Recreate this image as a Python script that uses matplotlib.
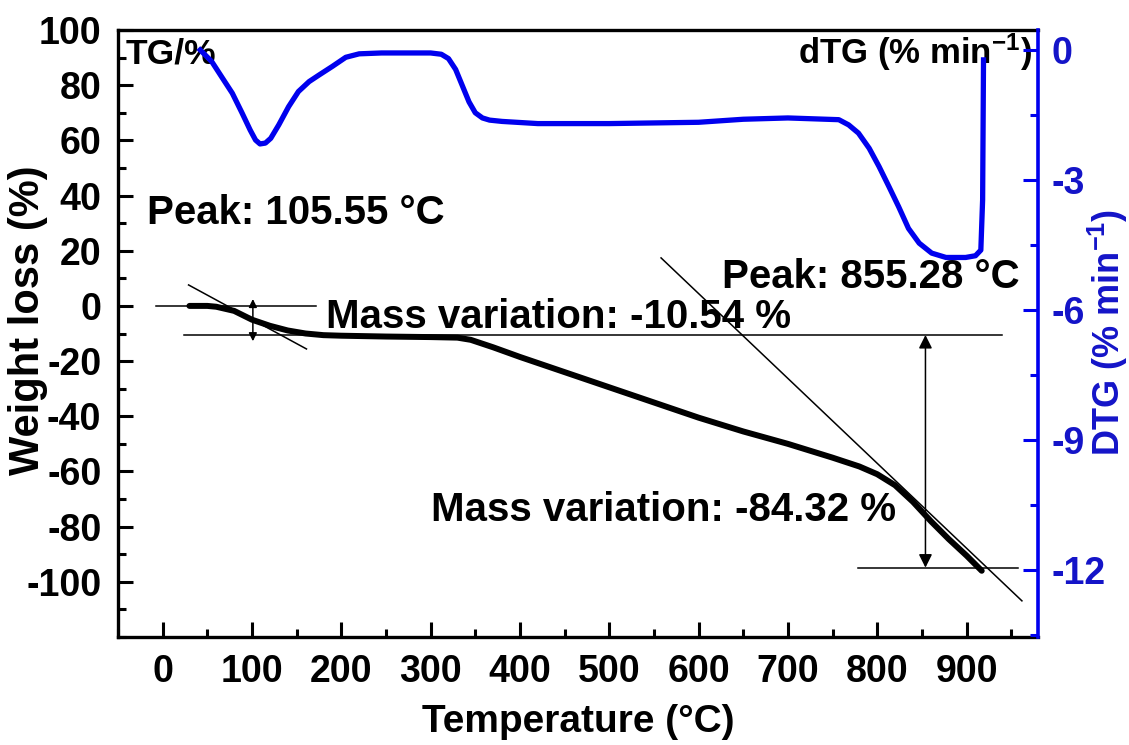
import numpy as np
import matplotlib
matplotlib.use("Agg")
import matplotlib.pyplot as plt
from matplotlib.ticker import MultipleLocator

# %% data

# TG curve: temperature (C) / weight loss (%)
tg_temp = [30, 50, 60, 80, 100, 120, 140, 160, 180, 200, 250, 300, 330, 345, 370,
           400, 450, 500, 550, 600, 650, 700, 750, 780, 800, 820, 840, 860, 880, 900, 917]
tg_wt = [0, 0, -0.3, -1.8, -5.0, -7.2, -8.9, -10.0, -10.6, -10.8, -11.1, -11.3, -11.5,
         -12.3, -15.0, -18.5, -24.0, -29.5, -35.0, -40.5, -45.5, -50.0, -55.0, -58.2,
         -61.0, -65.0, -71.0, -78.0, -84.5, -90.5, -96.0]

# dTG curve: temperature (C) / % min-1
dtg_temp = [42, 55, 66, 78, 89, 98, 104, 109, 115, 121, 130, 141, 152, 164, 175, 190,
            205, 220, 245, 300, 312, 320, 328, 336, 343, 350, 358, 366, 380, 420, 500,
            600, 650, 700, 757, 768, 779, 791, 802, 813, 824, 835, 847, 861, 877, 899,
            910, 916, 918, 919]
dtg_val = [0, -0.27, -0.62, -1.0, -1.46, -1.85, -2.08, -2.17, -2.15, -2.04, -1.73, -1.31,
           -0.96, -0.73, -0.58, -0.38, -0.17, -0.09, -0.07, -0.07, -0.1, -0.2, -0.45,
           -0.85, -1.2, -1.45, -1.57, -1.62, -1.65, -1.7, -1.7, -1.67, -1.6, -1.57,
           -1.61, -1.73, -1.92, -2.27, -2.69, -3.15, -3.62, -4.12, -4.46, -4.69, -4.79,
           -4.79, -4.75, -4.62, -3.46, -0.23]

# construction lines (mass variation / tangents)
mv1_top, mv1_bot = 0.0, -10.54
mv2_bot = -94.86
tan1 = ([29, 161], [7.6, -15.6])
tan2 = ([558, 962], [17.4, -106.9])

blue = "#0000ee"
blue_txt = "#1414c8"

plt.rcParams["font.family"] = ["Liberation Sans", "DejaVu Sans"]
plt.rcParams["font.weight"] = "bold"
plt.rcParams["mathtext.fontset"] = "custom"
plt.rcParams["mathtext.rm"] = "Liberation Sans:bold"
plt.rcParams["mathtext.bf"] = "Liberation Sans:bold"
plt.rcParams["mathtext.default"] = "bf"
plt.rcParams["axes.unicode_minus"] = False

W, H = 1129, 745
fig = plt.figure(figsize=(W / 100, H / 100), dpi=100)
ax = fig.add_axes([118 / W, 1 - 637 / H, 920 / W, 607 / H])
ax2 = ax.twinx()

# %% TG side
ax.plot(tg_temp, tg_wt, color="black", lw=4.3, solid_capstyle="round", zorder=3)
ax.plot([-7, 172], [mv1_top, mv1_top], color="black", lw=1.1)
ax.plot([23.5, 940], [mv1_bot, mv1_bot], color="black", lw=1.1)
ax.plot([778, 958], [mv2_bot, mv2_bot], color="black", lw=1.1)
ax.plot(tan1[0], tan1[1], color="black", lw=1.1)
ax.plot(tan2[0], tan2[1], color="black", lw=1.1)
ax.annotate("", xy=(101, 2.5), xytext=(101, -12.8),
            arrowprops=dict(arrowstyle="<|-|>", lw=1.1, color="black",
                            mutation_scale=12, shrinkA=0, shrinkB=0))
ax.annotate("", xy=(854, mv1_bot), xytext=(854, mv2_bot),
            arrowprops=dict(arrowstyle="<|-|>", lw=1.1, color="black",
                            mutation_scale=20, shrinkA=0, shrinkB=0))

ax.text(-41, 87.7, "TG/%", fontsize=25.5, fontweight="bold", ha="left", va="baseline")
ax.text(973, 87.7, "dTG (% min$^{-1}$)", fontsize=25, fontweight="bold",
        ha="right", va="baseline")
ax.text(-18, 29.7, "Peak: 105.55 °C", fontsize=29, fontweight="bold", va="baseline")
ax.text(626, 6.5, "Peak: 855.28 °C", fontsize=29, fontweight="bold", va="baseline")
ax.text(182.5, -8.0, "Mass variation: -10.54 %", fontsize=29, fontweight="bold",
        va="baseline")
ax.text(300, -77.9, "Mass variation: -84.32 %", fontsize=29, fontweight="bold",
        va="baseline")

ax.set_xlim(-50, 980)
ax.set_ylim(-120, 100)
ax.xaxis.set_minor_locator(MultipleLocator(50))
ax.yaxis.set_minor_locator(MultipleLocator(10))
ax.set_xticks(np.arange(0, 901, 100))
ax.set_yticks(np.arange(-100, 101, 20))
ax.tick_params(which="both", direction="in", width=2.2, top=False, right=False,
               labelsize=27, pad=12)
ax.tick_params(which="major", length=11)
ax.tick_params(which="minor", length=6)
for lab in ax.get_xticklabels() + ax.get_yticklabels():
    lab.set_fontweight("bold")
for s in ["left", "bottom", "top"]:
    ax.spines[s].set_linewidth(2.4)
ax.spines["right"].set_visible(False)

# axis titles placed by pixel centre
fig.text(578 / W, 1 - 722 / H, "Temperature (°C)", fontsize=28, fontweight="bold",
         ha="center", va="center")
fig.text(28 / W, 1 - 320 / H, "Weight loss (%)", fontsize=30, fontweight="bold",
         ha="center", va="center", rotation=90)
fig.text(1108 / W, 1 - 332 / H, "DTG (% min$^{-1}$)", fontsize=26, fontweight="bold",
         ha="center", va="center", rotation=90, color=blue_txt)

# %% DTG side
ax2.plot(dtg_temp, dtg_val, color=blue, lw=3.8, solid_joinstyle="round", zorder=3)
ax2.set_ylim(-13.55, 0.46)
ax2.yaxis.set_minor_locator(MultipleLocator(1.5))
ax2.set_yticks([0, -3, -6, -9, -12])
ax2.tick_params(which="both", direction="in", width=2.2, colors=blue,
                labelcolor=blue_txt, labelsize=27, pad=10)
ax2.tick_params(which="major", length=11)
ax2.tick_params(which="minor", length=6)
for lab in ax2.get_yticklabels():
    lab.set_fontweight("bold")
ax2.spines["right"].set_color(blue)
ax2.spines["right"].set_linewidth(2.6)
for s in ["left", "bottom", "top"]:
    ax2.spines[s].set_visible(False)

plt.savefig("out.png", dpi=100)
